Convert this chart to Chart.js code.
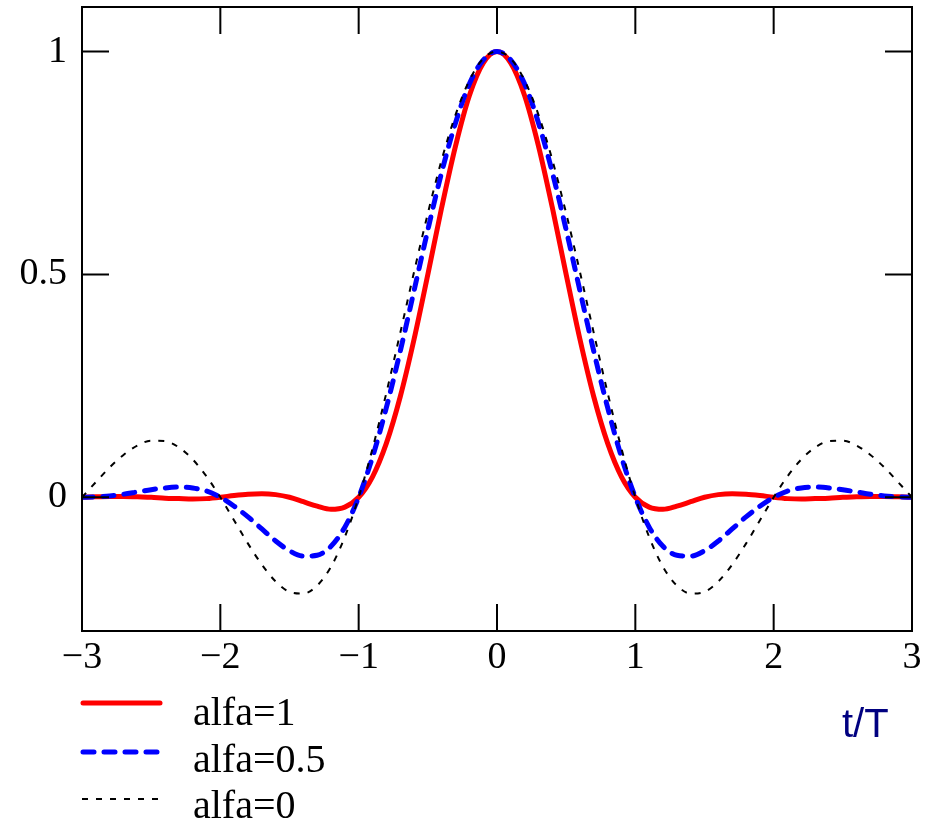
<!DOCTYPE html>
<html><head><meta charset="utf-8">
<script src="https://cdn.jsdelivr.net/npm/chart.js@4/dist/chart.umd.min.js"></script>
<style>html,body{margin:0;padding:0;background:#fff;overflow:hidden}#wrap{width:943px;height:820px}</style>
</head><body><div id="wrap"><canvas id="c" width="943" height="820"></canvas></div>
<script>
const tValues = [-3,-2.9,-2.8,-2.7,-2.6,-2.5,-2.4,-2.3,-2.2,-2.1,-2,-1.9,-1.8,-1.7,-1.6,-1.5,-1.4,-1.3,-1.2,-1.1,-1,-0.9,-0.8,-0.7,-0.6,-0.5,-0.4,-0.3,-0.2,-0.1,0,0.1,0.2,0.3,0.4,0.5,0.6,0.7,0.8,0.9,1,1.1,1.2,1.3,1.4,1.5,1.6,1.7,1.8,1.9,2,2.1,2.2,2.3,2.4,2.5,2.6,2.7,2.8,2.9,3];
const alfa1 = [0,0.001,0.002,0.002,0.001,0,-0.002,-0.003,-0.004,-0.003,0,0.004,0.007,0.008,0.006,0,-0.010,-0.020,-0.027,-0.022,0,0.046,0.121,0.225,0.354,0.500,0.650,0.788,0.901,0.974,1,0.974,0.901,0.788,0.650,0.500,0.354,0.225,0.121,0.046,0,-0.022,-0.027,-0.020,-0.010,0,0.006,0.008,0.007,0.004,0,-0.003,-0.004,-0.003,-0.002,0,0.001,0.002,0.002,0.001,0];
const alfa05 = [0,0.001,0.003,0.007,0.012,0.017,0.021,0.023,0.021,0.014,0,-0.020,-0.044,-0.071,-0.098,-0.120,-0.132,-0.130,-0.110,-0.067,0,0.090,0.201,0.327,0.463,0.600,0.729,0.840,0.927,0.981,1,0.981,0.927,0.840,0.729,0.600,0.463,0.327,0.201,0.090,0,-0.067,-0.110,-0.130,-0.132,-0.120,-0.098,-0.071,-0.044,-0.020,0,0.014,0.021,0.023,0.021,0.017,0.012,0.007,0.003,0.001,0];
const alfa0 = [0,0.034,0.067,0.095,0.116,0.127,0.126,0.112,0.085,0.047,0,-0.052,-0.104,-0.151,-0.189,-0.212,-0.216,-0.198,-0.156,-0.089,0,0.109,0.234,0.368,0.505,0.637,0.757,0.858,0.935,0.984,1,0.984,0.935,0.858,0.757,0.637,0.505,0.368,0.234,0.109,0,-0.089,-0.156,-0.198,-0.216,-0.212,-0.189,-0.151,-0.104,-0.052,0,0.047,0.085,0.112,0.126,0.127,0.116,0.095,0.067,0.034,0];
const xTicks = [-3,-2,-1,0,1,2,3];
const yTicks = [0,0.5,1];
const seriesLabels = ['alfa=1','alfa=0.5','alfa=0'];
const axisLabel = 't/T';

const SERIF = '"Liberation Serif","Times New Roman",serif';
const fmt = v => (v < 0 ? '\u2212' + Math.abs(v) : String(v));
const toPts = arr => tValues.map((t, i) => ({x: t, y: arr[i]}));

const styles = [
  {color:'#ff0000', width:5, dash:[], cap:'round'},
  {color:'#0000ff', width:5, dash:[11,10], cap:'round'},
  {color:'#000000', width:2, dash:[6,8], cap:'butt'}
];

const framePlugin = {
  id:'frame',
  afterDraw(chart){
    const ctx = chart.ctx, a = chart.chartArea, sx = chart.scales.x, sy = chart.scales.y;
    ctx.save();
    ctx.strokeStyle = '#000'; ctx.lineWidth = 2; ctx.setLineDash([]);
    ctx.strokeRect(a.left, a.top, a.right - a.left, a.bottom - a.top);
    const L = 27;
    ctx.beginPath();
    xTicks.forEach(v => {
      const px = sx.getPixelForValue(v);
      ctx.moveTo(px, a.bottom); ctx.lineTo(px, a.bottom - L);
      ctx.moveTo(px, a.top); ctx.lineTo(px, a.top + L);
    });
    yTicks.forEach(v => {
      const py = sy.getPixelForValue(v);
      ctx.moveTo(a.left, py); ctx.lineTo(a.left + L, py);
      ctx.moveTo(a.right, py); ctx.lineTo(a.right - L, py);
    });
    ctx.stroke();
    // legend
    const rows = [703, 752, 799];
    const base = [725, 772, 818];
    seriesLabels.forEach((lab, i) => {
      const s = styles[i];
      ctx.beginPath();
      ctx.strokeStyle = s.color; ctx.lineWidth = s.width; ctx.lineCap = s.cap;
      ctx.setLineDash(s.dash);
      ctx.moveTo(i === 2 ? 82 : 83, rows[i]); ctx.lineTo(160, rows[i]);
      ctx.stroke();
      ctx.setLineDash([]);
      ctx.fillStyle = '#000';
      ctx.font = '40px ' + SERIF;
      ctx.textBaseline = 'alphabetic'; ctx.textAlign = 'left';
      ctx.fillText(lab, 193, base[i]);
    });
    ctx.fillStyle = '#000080';
    ctx.font = '40px "Liberation Sans",Arial,sans-serif';
    ctx.fillText(axisLabel, 842, 737);
    ctx.restore();
  }
};

const ds = [alfa1, alfa05, alfa0].map((arr, i) => ({
  label: seriesLabels[i],
  data: toPts(arr),
  borderColor: styles[i].color,
  borderWidth: styles[i].width,
  borderDash: styles[i].dash,
  borderCapStyle: styles[i].cap,
  borderJoinStyle: 'round',
  pointRadius: 0,
  fill: false,
  cubicInterpolationMode: 'monotone',
  order: 2 - i
}));

new Chart(document.getElementById('c'), {
  type: 'line',
  data: {datasets: ds},
  options: {
    responsive: false,
    animation: false,
    devicePixelRatio: 1,
    layout: {padding: {top: 7, right: 31, left: 0, bottom: 0}},
    plugins: {legend: {display: false}, tooltip: {enabled: false}},
    scales: {
      x: {
        type: 'linear', min: -3, max: 3,
        afterBuildTicks: s => { s.ticks = xTicks.map(v => ({value: v})); },
        afterFit: s => { s.height = 189; s.paddingLeft = 0; s.paddingRight = 0; },
        grid: {display: false, drawTicks: false},
        border: {display: false},
        ticks: {color: '#000', font: {family: SERIF, size: 38}, padding: 4, maxRotation: 0, autoSkip: false, callback: v => fmt(v)}
      },
      y: {
        type: 'linear', min: -0.3, max: 1.1,
        afterBuildTicks: s => { s.ticks = yTicks.map(v => ({value: v})); },
        afterFit: s => { s.width = 82; s.paddingTop = 0; s.paddingBottom = 0; },
        grid: {display: false, drawTicks: false},
        border: {display: false},
        ticks: {color: '#000', font: {family: SERIF, size: 38}, padding: 15, autoSkip: false, callback: v => fmt(v)}
      }
    }
  },
  plugins: [framePlugin]
});
</script></body></html>
